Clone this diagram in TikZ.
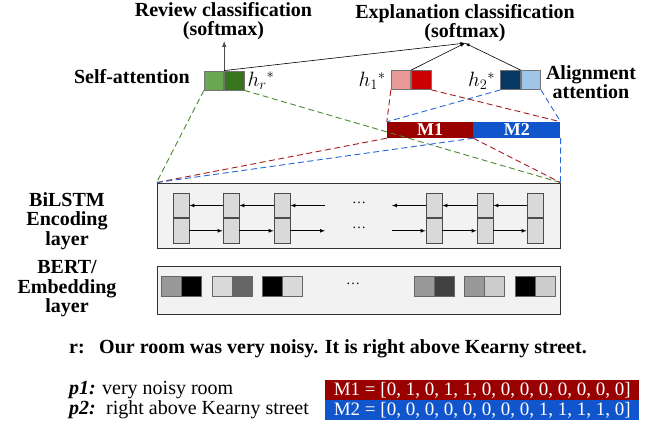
\documentclass[tikz,border=0pt]{standalone}
\usepackage{fontspec}
\setmainfont{Liberation Serif}
\usetikzlibrary{arrows, positioning, calc}

\newcommand{\bigfont}{\fontsize{20}{19.5}\selectfont}
\definecolor{grnlight}{HTML}{6AA84F}
\definecolor{grndark}{HTML}{38761D}
\definecolor{redlight}{HTML}{EA9999}
\definecolor{reddark}{HTML}{CC0000}
\definecolor{bluedark}{HTML}{073763}
\definecolor{bluelight}{HTML}{9FC5E8}
\definecolor{mone}{HTML}{990000}
\definecolor{mtwo}{HTML}{1155CC}
\definecolor{grndash}{HTML}{4A8A2C}
\definecolor{reddash}{HTML}{A61C1C}
\definecolor{bluedash}{HTML}{2766D8}

\tikzset{
	half/.style={rectangle, draw=black!55, line width=0.8pt, minimum width=19.5pt, minimum height=19pt, inner sep=0pt},
	lstm/.style={rectangle, draw=black!70, line width=0.8pt, fill=black!15, minimum width=16pt, minimum height=24.5pt, inner sep=0pt},
	emb/.style={rectangle, draw=black!60, line width=0.8pt, minimum width=20pt, minimum height=20pt, inner sep=0pt},
	layerbox/.style={rectangle, draw=black!80, line width=0.9pt, fill=black!5, minimum width=403pt, inner sep=0pt},
	lbl/.style={font=\bigfont\bfseries, align=center, inner sep=1pt},
	txt/.style={font=\bigfont, inner sep=1pt},
	mbar/.style={rectangle, minimum height=16pt, inner sep=0pt, text=white, font=\fontsize{18}{18}\selectfont\bfseries},
	mvec/.style={rectangle, anchor=west, minimum width=314pt, inner sep=0pt, minimum height=20pt, text=white, font=\fontsize{19}{19}\selectfont},
	link/.style={dash pattern=on 6pt off 3.5pt, line width=0.9pt},
}

\begin{document}
\begin{tikzpicture}[x=1pt, y=-1pt, >=latex]
		\useasboundingbox (0,0) rectangle (669,425);
		% classifiers
		\node[lbl] (revcls) at (223.5,21) {Review classification\\(softmax)};
		\node[lbl] (explcls) at (465,23) {Explanation classification\\(softmax)};
		% attention vectors
		\node[half, fill=grnlight] (g1) at (214,80.5) {};
		\node[half, fill=grndark, right=0pt of g1] (g2) {};
		\node[half, fill=redlight] (r1) at (401,80) {};
		\node[half, fill=reddark, right=0pt of r1] (r2) {};
		\node[half, fill=bluedark] (n1) at (510.5,80) {};
		\node[half, fill=bluelight, right=0pt of n1] (n2) {};
		\node[lbl, left=13pt of g1, yshift=4pt] (selfatt) {Self-attention};
		\node[txt, right=2pt of g2] (hr) {$h_r{}^{*}$};
		\node[txt, left=4pt of r1, yshift=-1pt] (h1) {$h_1{}^{*}$};
		\node[txt, left=4pt of n1, yshift=-1pt] (h2) {$h_2{}^{*}$};
		\node[lbl] (alignatt) at (591,82) {Alignment\\attention};
		\draw[->, black!70, line width=1pt] (g1.north east) -- (g1.north east |- revcls.south);
		\draw[->, line width=0.6pt] (g1.north east) -- (explcls.south);
		\draw[->, line width=0.6pt] (r1.north east) -- (explcls.south);
		\draw[->, line width=0.6pt] (n1.north east) -- (explcls.south);
		% masks
		\node[mbar, fill=mone, minimum width=86pt] (m1) at (430,130) {M1};
		\node[mbar, fill=mtwo, minimum width=87pt, right=0pt of m1] (m2) {M2};
		% layers
		\node[layerbox, minimum height=65pt] (bilstm) at (358.5,215.5) {};
		\node[layerbox, minimum height=48pt] (bert) at (358.5,290) {};
		\node[lbl] (enclbl) at (67,221) {BiLSTM\\Encoding\\layer};
		\node[lbl] (emblbl) at (67,289) {BERT/\\Embedding\\layer};
		% dashed projections
		\draw[link, grndash] (g1.south west) -- (bilstm.north west);
		\draw[link, grndash] (g2.south east) -- (bilstm.north east);
		\draw[link, reddash] (r1.south west) -- (m1.north west);
		\draw[link, reddash] (r2.south east) -- (m2.north east);
		\draw[link, bluedash] (n1.south west) -- (m1.north west);
		\draw[link, bluedash] (n2.south east) -- (m2.north east);
		\draw[link, reddash] (m1.south west) -- (bilstm.north west);
		\draw[link, reddash] (m1.south east) -- (bilstm.north east);
		\draw[link, bluedash] (m2.south west) -- (bilstm.north west);
		\draw[link, bluedash] (m2.south east) -- (bilstm.north east);
		% lstm cells
		\foreach \i/\x in {1/181,2/231,3/282,4/434,5/485,6/535} {
			\node[lstm] (t\i) at (\x,205.5) {};
			\node[lstm, below=0pt of t\i] (b\i) {};
		}
		\foreach \i/\j in {1/2,2/3,4/5,5/6} {
			\draw[->, line width=0.7pt] (t\j.west) -- (t\i.east);
			\draw[->, line width=0.7pt] (b\i.east) -- (b\j.west);
		}
		\coordinate (midL) at (325,205.5);
		\coordinate (midR) at (392,205.5);
		\draw[->, line width=0.7pt] (midL) -- (t3.east);
		\draw[->, line width=0.7pt] (b3.east) -- (midL |- b3.east);
		\draw[->, line width=0.7pt] (t4.west) -- (midR);
		\draw[->, line width=0.7pt] (midR |- b4.west) -- (b4.west);
		\node[font=\fontsize{14}{14}\selectfont] (dotsT) at (359,203) {\dots};
		\node[font=\fontsize{14}{14}\selectfont] (dotsB) at (359,228) {\dots};
		% embeddings
		\foreach \i/\x/\ca/\cb in {1/171/black!40/black, 2/222/black!15/black!60, 3/272/black/black!15, 4/424/black!40/black!75, 5/474/black!40/black!20, 6/525/black/black!20} {
			\node[emb, fill=\ca] (ea\i) at (\x,286) {};
			\node[emb, fill=\cb, right=0pt of ea\i] (eb\i) {};
		}
		\node[font=\fontsize{14}{14}\selectfont] (dotsE) at (353,284) {\dots};
		% example
		\node[lbl, anchor=west] (rtag) at (68,349) {r:};
		\node[lbl, anchor=west] (review) at (98,349) {Our room was very noisy. It is right above Kearny street.};
		\node[txt, anchor=west, font=\bigfont\bfseries\itshape] (p1tag) at (68,390) {p1:};
		\node[txt, anchor=west] (p1) at (101,390) {very noisy room};
		\node[txt, anchor=west, font=\bigfont\bfseries\itshape] (p2tag) at (68,410) {p2:};
		\node[txt, anchor=west] (p2) at (105,410) {right above Kearny street};
		\node[mvec, fill=mone] (m1vec) at (325,390) {M1 = [0, 1, 0, 1, 1, 0, 0, 0, 0, 0, 0, 0, 0]};
		\node[mvec, fill=mtwo] (m2vec) at (325,410) {M2 = [0, 0, 0, 0, 0, 0, 0, 0, 1, 1, 1, 1, 0]};
\end{tikzpicture}
\end{document}
